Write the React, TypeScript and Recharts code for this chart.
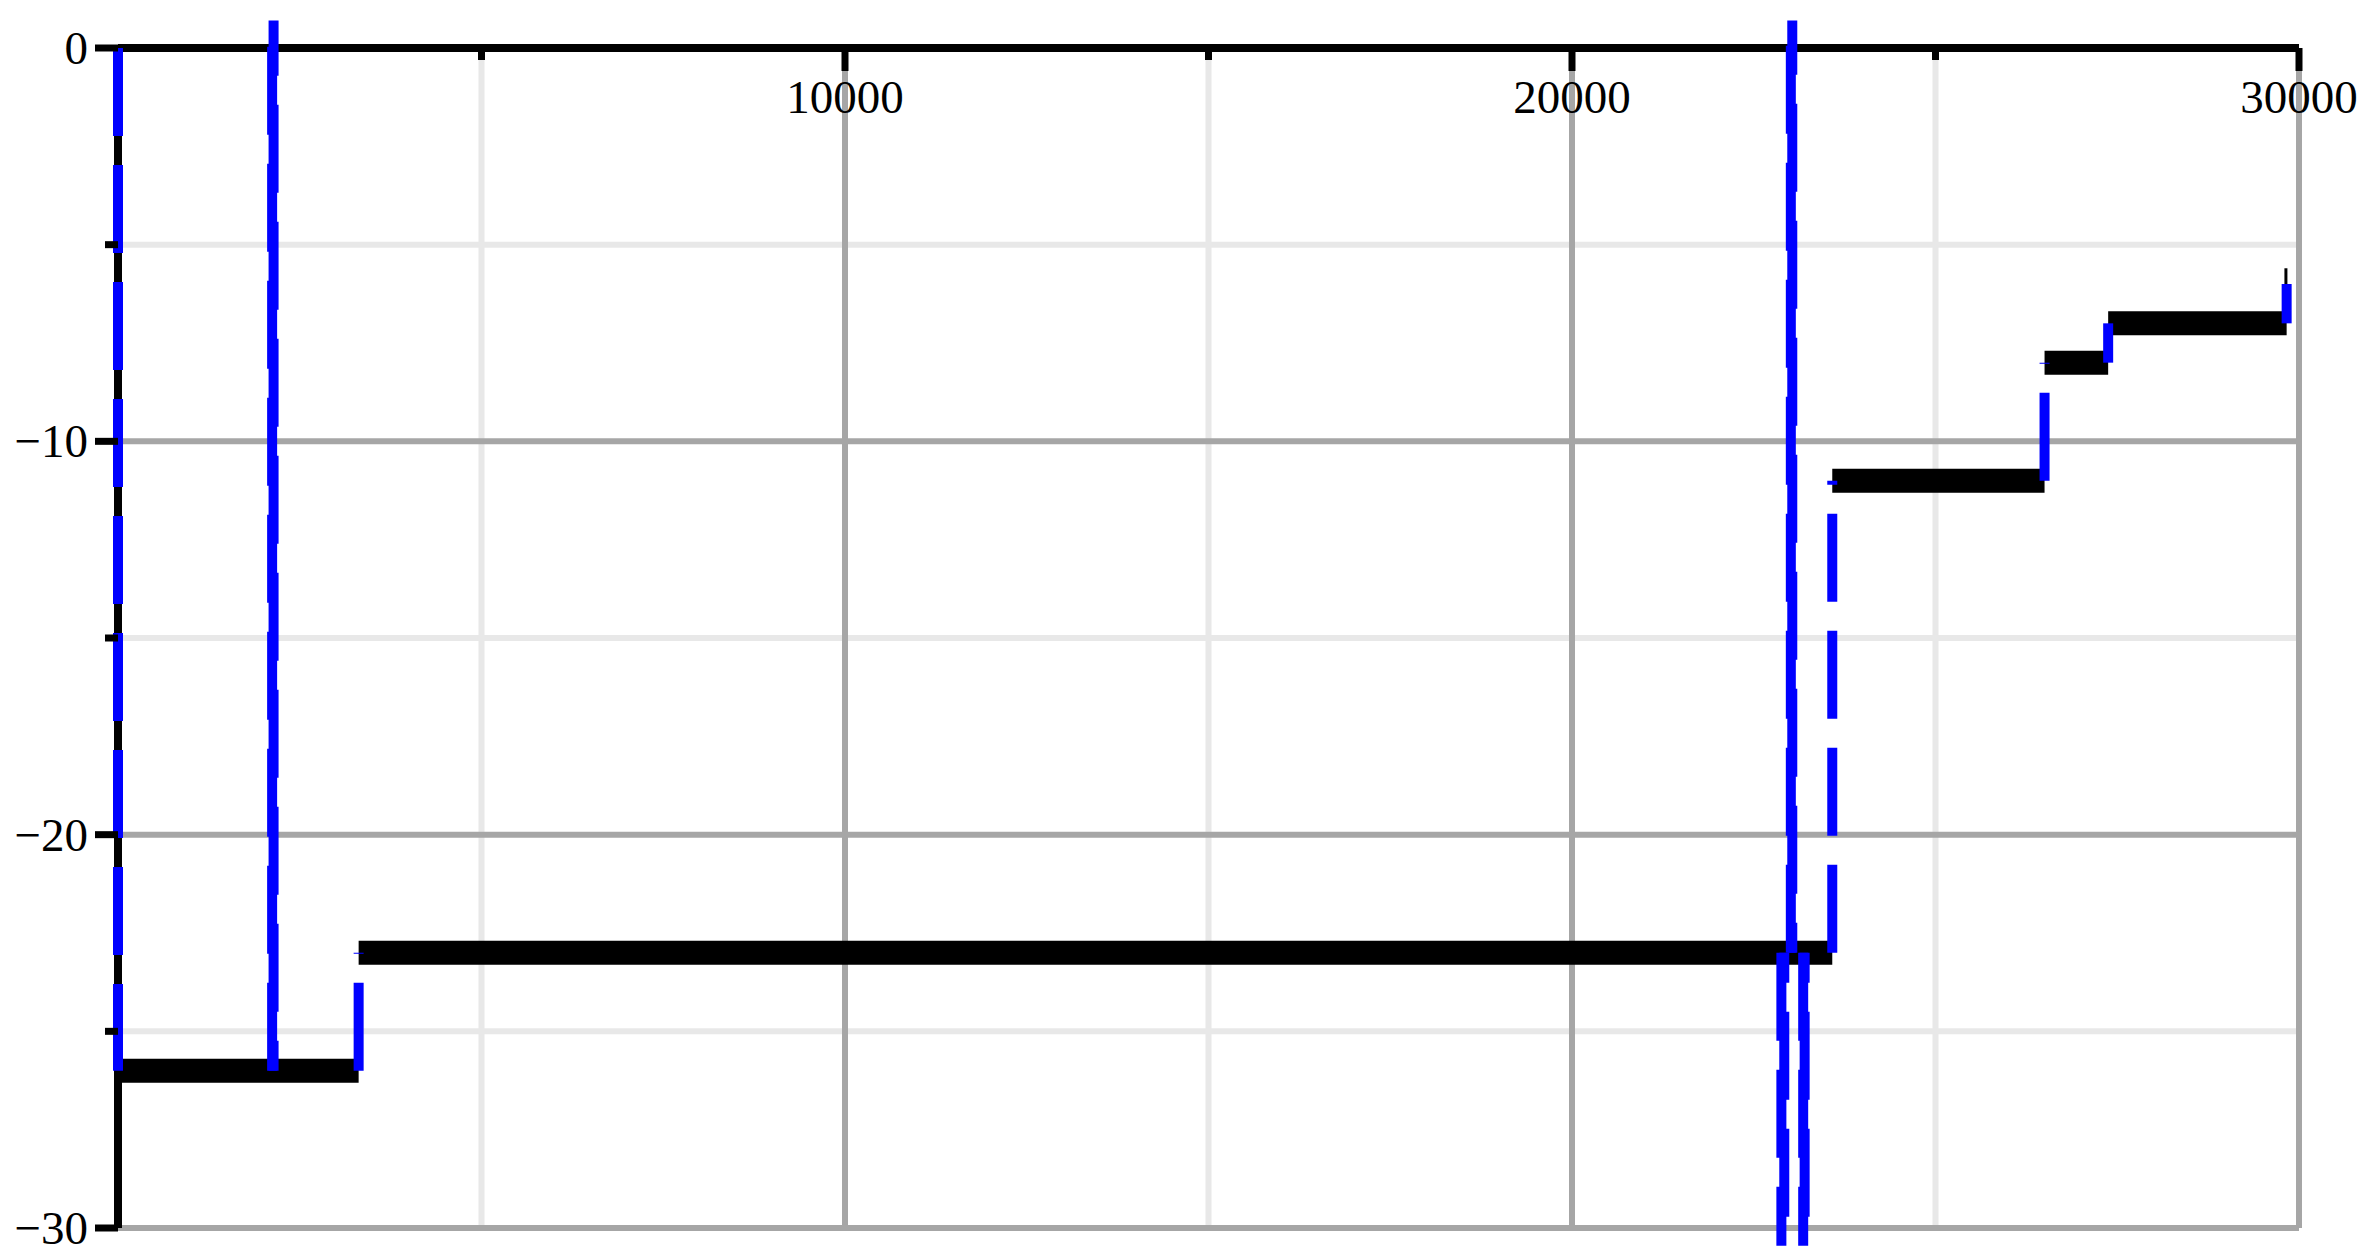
import React from "react";
import { ComposedChart, Line, XAxis, YAxis, ReferenceLine } from "recharts";

// thick black steps: [xStart, xEnd, level]
const STEPS: [number, number, number][] = [
  [0, 3310, -26],
  [3310, 23580, -23],
  [23580, 26500, -11],
  [26500, 27375, -8],
  [27375, 29830, -7],
];
// thin black tail at the last jump: [x, yFrom, yTo]
const BLACK_TAIL: [number, number, number] = [29820, -6, -5.6];

// blue dashed jumps drawn once: [x, yFrom, yTo]
const JUMPS_SINGLE: [number, number, number][] = [
  [0, 0, -26],
  [3310, -26, -23],
  [23580, -23, -11],
  [26500, -11, -8],
  [27375, -8, -7],
  [29830, -7, -6],
];
// blue jumps traced twice (out and back): [xA, xB, yFrom, yTo]
const JUMPS_DOUBLE: [number, number, number, number][] = [
  [2120, 2140, -26, 0.7],
  [23010, 23030, -23, 0.7],
  [22880, 22920, -23, -30.45],
  [23180, 23200, -23, -30.45],
];

const X_TICKS = [5000, 10000, 15000, 20000, 25000, 30000];
const Y_TICKS = [0, -5, -10, -15, -20, -25, -30];
const MINOR_X = [5000, 15000, 25000];
const MAJOR_X = [10000, 20000, 30000];
const MINOR_Y = [-5, -15, -25];
const MAJOR_Y = [-10, -20, -30];

const blackData = STEPS.flatMap(([a, b, y]) => [
  { x: a, y },
  { x: b, y },
  { x: b, y: null },
]);
const tailData = [
  { x: BLACK_TAIL[0], y: BLACK_TAIL[1] },
  { x: BLACK_TAIL[0], y: BLACK_TAIL[2] },
];

type Stroke = { pts: { x: number; y: number }[]; back: boolean };
const blueStrokes: Stroke[] = [
  ...JUMPS_SINGLE.map(([x, a, b]) => ({ pts: [{ x, y: a }, { x, y: b }], back: false })),
  ...JUMPS_DOUBLE.flatMap(([xa, xb, a, b]) => [
    { pts: [{ x: xa, y: a }, { x: xa, y: b }], back: false },
    { pts: [{ x: xb, y: a }, { x: xb, y: b }], back: true },
  ]),
];

const FONT = "'Liberation Serif', 'Times New Roman', serif";
const MAJOR_GRID = "#a6a6a6";
const MINOR_GRID = "#e8e8e8";
const BLUE = "#0000ff";

const fmt = (v: number) => (v < 0 ? `\u2212${Math.abs(v)}` : `${v}`);

function XTick(props: any) {
  const { x, y, payload } = props;
  const major = payload.value % 10000 === 0;
  return (
    <g>
      <line x1={x} x2={x} y1={y} y2={y + (major ? 23 : 12)} stroke="#000" strokeWidth={7} />
      {major && (
        <text x={x} y={y + 65} textAnchor="middle" fontFamily={FONT} fontSize={47} fill="#000">
          {payload.value}
        </text>
      )}
    </g>
  );
}

function YTick(props: any) {
  const { x, y, payload } = props;
  const major = payload.value % 10 === 0;
  return (
    <g>
      <line x1={x - (major ? 23 : 13)} x2={x} y1={y} y2={y} stroke="#000" strokeWidth={7} />
      {major && (
        <text x={x - 30} y={y} dy="0.34em" textAnchor="end" fontFamily={FONT} fontSize={47} fill="#000">
          {fmt(payload.value)}
        </text>
      )}
    </g>
  );
}

export default function App() {
  return (
    <div style={{ position: "absolute", left: 0, top: 0, width: 2373, height: 1259, background: "#fff" }}>
      <style>{`.recharts-line, .recharts-line * { clip-path: none !important; }`}</style>
      <ComposedChart width={2373} height={1259} margin={{ top: 47, right: 74, bottom: 31, left: 117 }}>
        {MINOR_X.map((v) => (
          <ReferenceLine key={"mx" + v} x={v} stroke={MINOR_GRID} strokeWidth={6} zIndex={-60} />
        ))}
        {MINOR_Y.map((v) => (
          <ReferenceLine key={"my" + v} y={v} stroke={MINOR_GRID} strokeWidth={6} zIndex={-60} />
        ))}
        {MAJOR_X.map((v) => (
          <ReferenceLine key={"Mx" + v} x={v} stroke={MAJOR_GRID} strokeWidth={6} zIndex={-50} />
        ))}
        {MAJOR_Y.map((v) => (
          <ReferenceLine key={"My" + v} y={v} stroke={MAJOR_GRID} strokeWidth={6} zIndex={-50} />
        ))}
        <XAxis
          dataKey="x"
          type="number"
          orientation="top"
          domain={[0, 30000]}
          ticks={X_TICKS}
          height={1}
          tickSize={0}
          tickMargin={0}
          tickLine={false}
          axisLine={{ stroke: "#000", strokeWidth: 8 }}
          tick={<XTick />}
          interval={0}
        />
        <YAxis
          type="number"
          domain={[-30, 0]}
          allowDataOverflow
          ticks={Y_TICKS}
          width={1}
          tickSize={0}
          tickMargin={0}
          tickLine={false}
          axisLine={{ stroke: "#000", strokeWidth: 8 }}
          tick={<YTick />}
          interval={0}
        />
        <Line
          data={blackData}
          dataKey="y"
          type="linear"
          stroke="#000"
          strokeWidth={24}
          strokeLinecap="butt"
          dot={false}
          activeDot={false}
          connectNulls={false}
          isAnimationActive={false}
          zIndex={600}
        />
        <Line
          data={tailData}
          dataKey="y"
          type="linear"
          stroke="#000"
          strokeWidth={3}
          dot={false}
          activeDot={false}
          isAnimationActive={false}
          zIndex={600}
        />
        {blueStrokes.map((s, i) => (
          <Line
            key={"b" + i}
            data={s.pts}
            dataKey="y"
            type="linear"
            stroke={BLUE}
            strokeWidth={10}
            strokeLinecap="butt"
            strokeDasharray="88 29"
            strokeDashoffset={s.back ? 58 : 0}
            dot={false}
            activeDot={false}
            isAnimationActive={false}
            zIndex={700}
          />
        ))}
      </ComposedChart>
    </div>
  );
}
